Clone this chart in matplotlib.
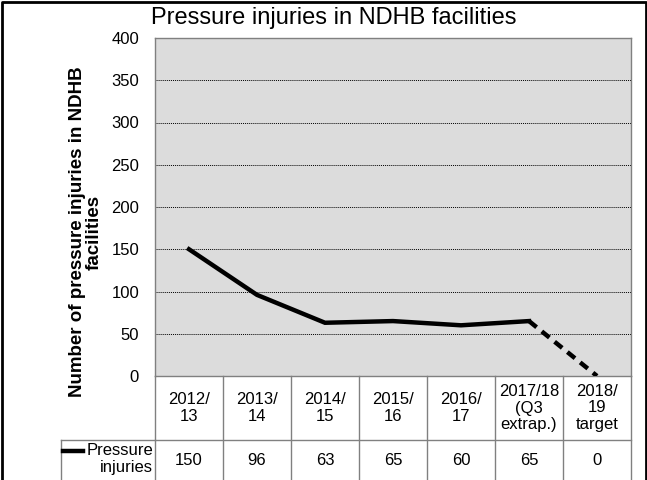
import matplotlib.pyplot as plt
import matplotlib.transforms as mtransforms
from matplotlib.lines import Line2D

plt.rcParams['font.family'] = ['Liberation Sans', 'DejaVu Sans']

# chart data
categories = ['2012/\n13', '2013/\n14', '2014/\n15', '2015/\n16', '2016/\n17',
              '2017/18\n(Q3\nextrap.)', '2018/\n19\ntarget']
injuries = [150, 96, 63, 65, 60, 65, 0]
series_name = 'Pressure\ninjuries'
y_ticks = [0, 50, 100, 150, 200, 250, 300, 350, 400]

W, H = 647, 480
fig = plt.figure(figsize=(W / 100, H / 100), dpi=100)

# plot area in pixel coordinates
left, right, top, bottom = 155, 631, 38, 376
ax = fig.add_axes([left / W, (H - bottom) / H, (right - left) / W, (bottom - top) / H])
ax.set_facecolor('#dcdcdc')
n = len(categories)
x = list(range(n))
ax.set_xlim(-0.5, n - 0.5)
ax.set_ylim(0, 400)
ax.set_yticks(y_ticks)
ax.tick_params(axis='y', length=0, labelsize=12, pad=11.5)
ax.set_xticks([])
ax.yaxis.grid(True, color='black', linestyle=(0, (1, 1)), linewidth=0.7)
for s in ax.spines.values():
    s.set_color('#808080')
    s.set_linewidth(1)

# solid part, then dashed target segment
ax.plot(x[:-1], injuries[:-1], color='black', lw=3.2, solid_joinstyle='miter', zorder=3)
ax.plot(x[-2:], injuries[-2:], color='black', lw=3.2, linestyle=(0, (2.2, 1.5)), zorder=3)

# title is centred on the figure, not over the plot area
fig.text(334 / W, (H - 18) / H, 'Pressure injuries in NDHB facilities',
         ha='center', va='center', fontsize=17)
fig.text(86 / W, (H - 232) / H, 'Number of pressure injuries in NDHB\nfacilities',
         rotation=90, ha='center', va='center', multialignment='center',
         fontsize=13.5, fontweight='bold', linespacing=1.0)

# data table below the plot
tr = mtransforms.blended_transform_factory(ax.transData, ax.transAxes)
r1 = -(440 - bottom) / (bottom - top)
r2 = -(H + 2 - bottom) / (bottom - top)
gcol = '#808080'
for i in range(n + 1):
    ax.add_line(Line2D([i - 0.5, i - 0.5], [0, r2], transform=tr, color=gcol,
                       lw=1, clip_on=False))
ax.add_line(Line2D([-0.5, n - 0.5], [r1, r1], transform=tr, color=gcol,
                   lw=1, clip_on=False))
for i, (c, v) in enumerate(zip(categories, injuries)):
    ax.text(i, r1 / 2, c, transform=tr, ha='center', va='center', fontsize=12,
            linespacing=1.15)
    ax.text(i, (r1 + r2 + 0.005) / 2, str(v), transform=tr, ha='center',
            va='center', fontsize=12)

# legend cell
fig.add_artist(Line2D([61 / W, left / W], [(H - 440) / H] * 2, color=gcol, lw=1))
fig.add_artist(Line2D([61 / W, 61 / W], [(H - 440) / H, 0], color=gcol, lw=1))
fig.add_artist(Line2D([63 / W, 83 / W], [(H - 451) / H] * 2, color='black', lw=3.2))
fig.text(153 / W, (H - 459) / H, series_name, ha='right', va='center',
         fontsize=12, linespacing=1.1)

# figure border (top, left, right)
fig.add_artist(Line2D([1.5 / W, 1.5 / W, (W - 1.5) / W, (W - 1.5) / W],
                      [0, (H - 1.5) / H, (H - 1.5) / H, 0], color='black', lw=2))

fig.savefig('out.png', dpi=100)
